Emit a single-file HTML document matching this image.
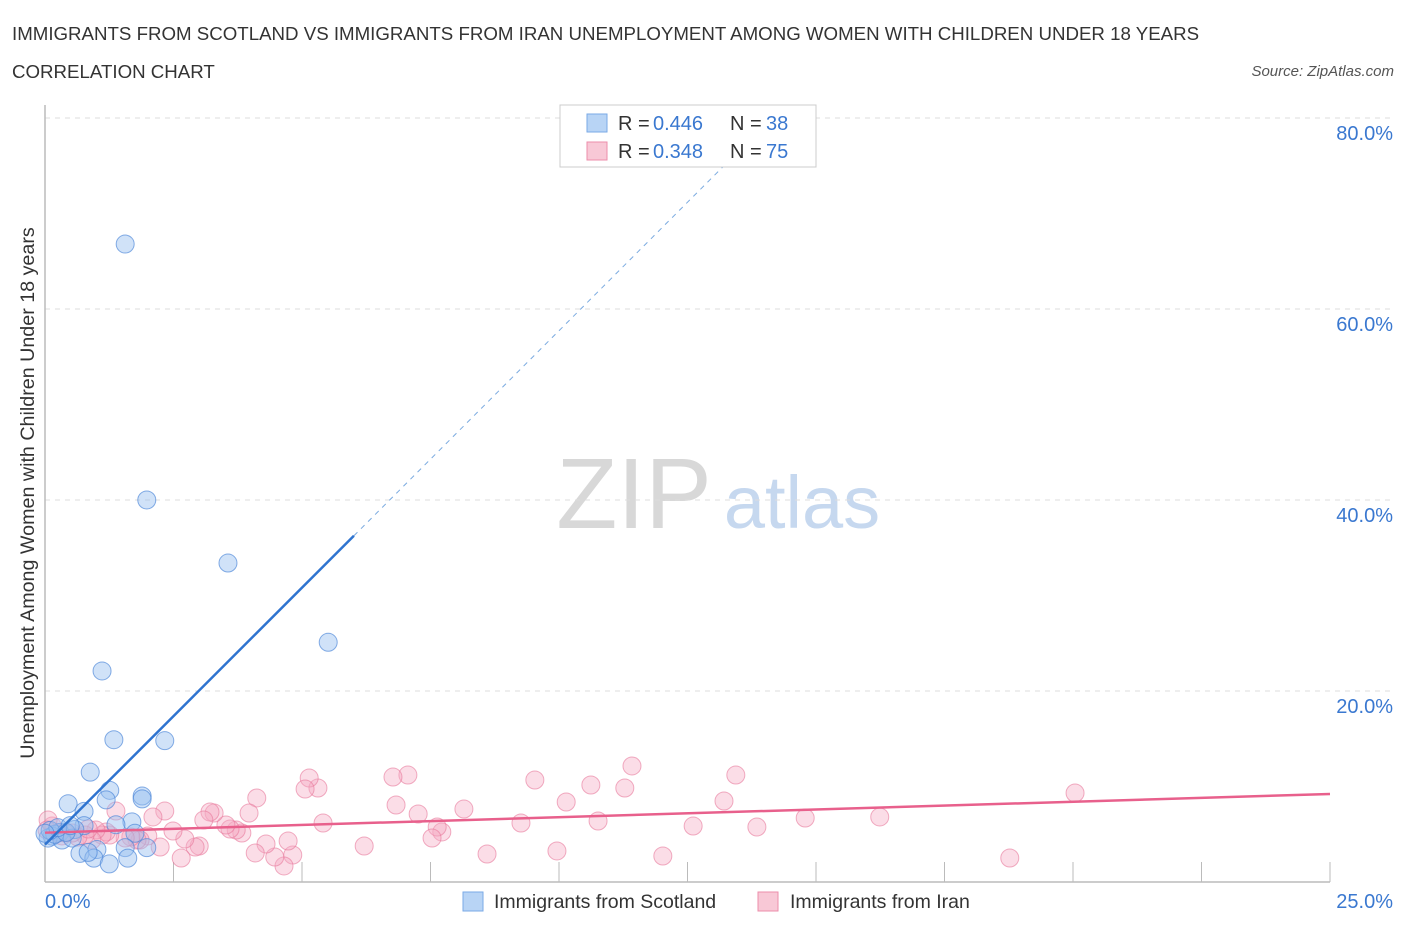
<!DOCTYPE html>
<html><head><meta charset="utf-8"><style>
body{margin:0;background:#fff;font-family:"Liberation Sans",sans-serif;}
svg text{font-family:"Liberation Sans",sans-serif;}
</style></head><body>
<svg id="chart" width="1406" height="930" xmlns="http://www.w3.org/2000/svg">
<text x="12" y="40" font-size="18.7" fill="#333">IMMIGRANTS FROM SCOTLAND VS IMMIGRANTS FROM IRAN UNEMPLOYMENT AMONG WOMEN WITH CHILDREN UNDER 18 YEARS</text>
<text x="12" y="78" font-size="18.7" fill="#333">CORRELATION CHART</text>
<text x="1394" y="76" font-size="15" fill="#555" font-style="italic" text-anchor="end">Source: ZipAtlas.com</text>
<text x="0" y="0" font-size="19.7" fill="#333" text-anchor="middle" transform="translate(34,493) rotate(-90)">Unemployment Among Women with Children Under 18 years</text>
<g>
<text x="634" y="528" font-size="100" fill="#d8d8d8" font-family="Liberation Serif" text-anchor="middle">ZIP</text>
<text x="802" y="528" font-size="74" fill="#c6d8ef" text-anchor="middle">atlas</text>
</g>
<g id="grid"></g><g id="axes"></g><g id="marks"></g>
<g>
<rect x="560" y="105" width="256" height="62" fill="#fff" stroke="#ccc"/>
<rect x="587" y="114" width="20" height="18" fill="#b8d4f5" stroke="#7aaae6"/>
<text x="618" y="130" font-size="20" fill="#333">R = </text><text x="653" y="130" font-size="20" fill="#3a78d0">0.446</text>
<text x="730" y="130" font-size="20" fill="#333">N = </text><text x="766" y="130" font-size="20" fill="#3a78d0">38</text>
<rect x="587" y="142" width="20" height="18" fill="#f8c8d6" stroke="#ec8eab"/>
<text x="618" y="158" font-size="20" fill="#333">R = </text><text x="653" y="158" font-size="20" fill="#3a78d0">0.348</text>
<text x="730" y="158" font-size="20" fill="#333">N = </text><text x="766" y="158" font-size="20" fill="#3a78d0">75</text>
</g>
<g>
<rect x="463" y="892" width="20" height="19" fill="#b8d4f5" stroke="#7aaae6"/>
<text x="494" y="908" font-size="19.5" fill="#333">Immigrants from Scotland</text>
<rect x="758" y="892" width="20" height="19" fill="#f8c8d6" stroke="#ec8eab"/>
<text x="790" y="908" font-size="19.5" fill="#333">Immigrants from Iran</text>
</g>
</svg>
<script>
const xTickLabels=["0.0%","25.0%"];
const yTicks=[20,40,60,80];
const blueX=[1.56,1.98,3.56,5.51,1.11,1.34,2.33,0.88,1.26,1.89,1.89,1.19,0.45,0.76,1.69,1.38,0.76,0.29,0.58,0.14,0.06,0.33,0.19,0.53,1.75,1.98,1.56,1.01,0.68,0.95,1.61,1.25,0.84,0.41,0.10,0.25,0.49,0.0];
const blueY=[66.8,40.0,33.4,25.1,22.1,14.9,14.8,11.5,9.6,9.0,8.7,8.6,8.2,7.4,6.3,6.0,5.9,5.2,5.5,4.8,4.6,4.4,5.0,4.6,5.1,3.6,3.6,3.4,3.0,2.5,2.5,1.9,3.1,5.2,5.4,5.7,5.9,5.1];
const pinkX=[20.04,18.77,16.24,14.79,13.85,13.44,13.21,12.61,12.02,11.42,11.28,10.76,10.62,10.14,9.96,9.53,9.26,8.60,8.15,7.72,7.63,7.53,7.26,7.06,6.83,6.77,6.21,5.41,5.31,5.14,5.06,4.82,4.73,4.65,4.47,4.30,4.12,4.09,3.97,3.83,3.72,3.60,3.52,3.29,3.21,3.09,3.00,2.92,2.72,2.65,2.49,2.33,2.24,2.10,2.00,1.85,1.79,1.67,1.56,1.38,1.26,1.19,1.11,0.99,0.91,0.78,0.64,0.53,0.39,0.25,0.14,0.06,0.04,0.33,0.84];
const pinkY=[9.32,2.51,6.81,6.70,5.76,11.20,8.48,5.86,2.72,12.15,9.84,6.39,10.16,8.38,3.25,10.68,6.18,2.93,7.64,5.24,5.76,4.61,7.12,11.20,8.06,10.99,3.77,6.18,9.84,10.89,9.74,2.83,4.29,1.68,2.62,3.98,8.80,3.04,7.22,5.13,5.44,5.55,5.97,7.22,7.33,6.49,3.77,3.66,4.50,2.51,5.34,7.43,3.66,6.81,4.82,4.40,4.40,4.71,4.61,7.43,4.92,5.24,4.92,5.44,4.40,4.92,4.71,5.13,5.13,5.13,5.86,6.49,5.44,4.82,5.55];
const NS="http://www.w3.org/2000/svg";
const X0=45,X1=1330,Y0=882,PPY=191/20;
function sx(v){return X0+(X1-X0)*v/25;}
function sy(v){return Y0-v*PPY;}
function mk(tag,attrs,parent){const e=document.createElementNS(NS,tag);for(const k in attrs)e.setAttribute(k,attrs[k]);document.getElementById(parent).appendChild(e);return e;}
yTicks.forEach(t=>{
  const g=mk('line',{x1:X0,x2:1394,y1:sy(t),y2:sy(t),stroke:'#ddd','stroke-dasharray':'5,5'},'grid');
  
  
  const l=mk('text',{x:1393,y:sy(t)+22,'font-size':20,fill:'#3a78d0','text-anchor':'end'},'grid');
  l.textContent=t.toFixed(1)+'%';
  
  
});
const ax=mk('line',{x1:X0,x2:X0,y1:105,y2:Y0,stroke:'#bbb','stroke-width':1.5},'axes');


const bx=mk('line',{x1:X0,x2:X1,y1:Y0,y2:Y0,stroke:'#bbb','stroke-width':1.5},'axes');


for(let i=1;i<=10;i++){const t=mk('line',{x1:sx(i*2.5),x2:sx(i*2.5),y1:Y0,y2:Y0-20,stroke:'#bbb'},'axes');

}
const xl0=mk('text',{x:45,y:908,'font-size':20,fill:'#3a78d0'},'axes');xl0.textContent=xTickLabels[0];


const xl1=mk('text',{x:1393,y:908,'font-size':20,fill:'#3a78d0','text-anchor':'end'},'axes');xl1.textContent=xTickLabels[1];


function fit(xs,ys){const n=xs.length;let mx=0,my=0;for(let i=0;i<n;i++){mx+=xs[i];my+=ys[i];}mx/=n;my/=n;let a=0,b=0;for(let i=0;i<n;i++){a+=(xs[i]-mx)*(ys[i]-my);b+=(xs[i]-mx)**2;}const s=a/b;return{s:s,c:my-s*mx};}
pinkX.forEach((x,i)=>{const c=mk('circle',{cx:sx(x),cy:sy(pinkY[i]),r:9,fill:'rgba(246,170,195,0.4)',stroke:'rgba(232,120,155,0.6)'},'marks');

});
blueX.forEach((x,i)=>{const c=mk('circle',{cx:sx(x),cy:sy(blueY[i]),r:9,fill:'rgba(150,190,240,0.45)',stroke:'rgba(70,130,215,0.65)'},'marks');

});
const fp=fit(pinkX,pinkY);
const pl=mk('line',{x1:sx(0),y1:sy(fp.c),x2:sx(25),y2:sy(fp.c+fp.s*25),stroke:'#e8608c','stroke-width':2.5},'marks');


const fb=fit(blueX,blueY);
const bmax=Math.max(...blueX)+0.5;
const bl=mk('line',{x1:sx(0),y1:sy(fb.c),x2:sx(bmax),y2:sy(fb.c+fb.s*bmax),stroke:'#2f74d0','stroke-width':2.5},'marks');


const xe=Math.min(25,(76-fb.c)/fb.s);
const bd=mk('line',{x1:sx(bmax),y1:sy(fb.c+fb.s*bmax),x2:sx(xe),y2:sy(fb.c+fb.s*xe),stroke:'#7aaae0','stroke-width':1,'stroke-dasharray':'5,5'},'marks');


</script>
</body></html>
